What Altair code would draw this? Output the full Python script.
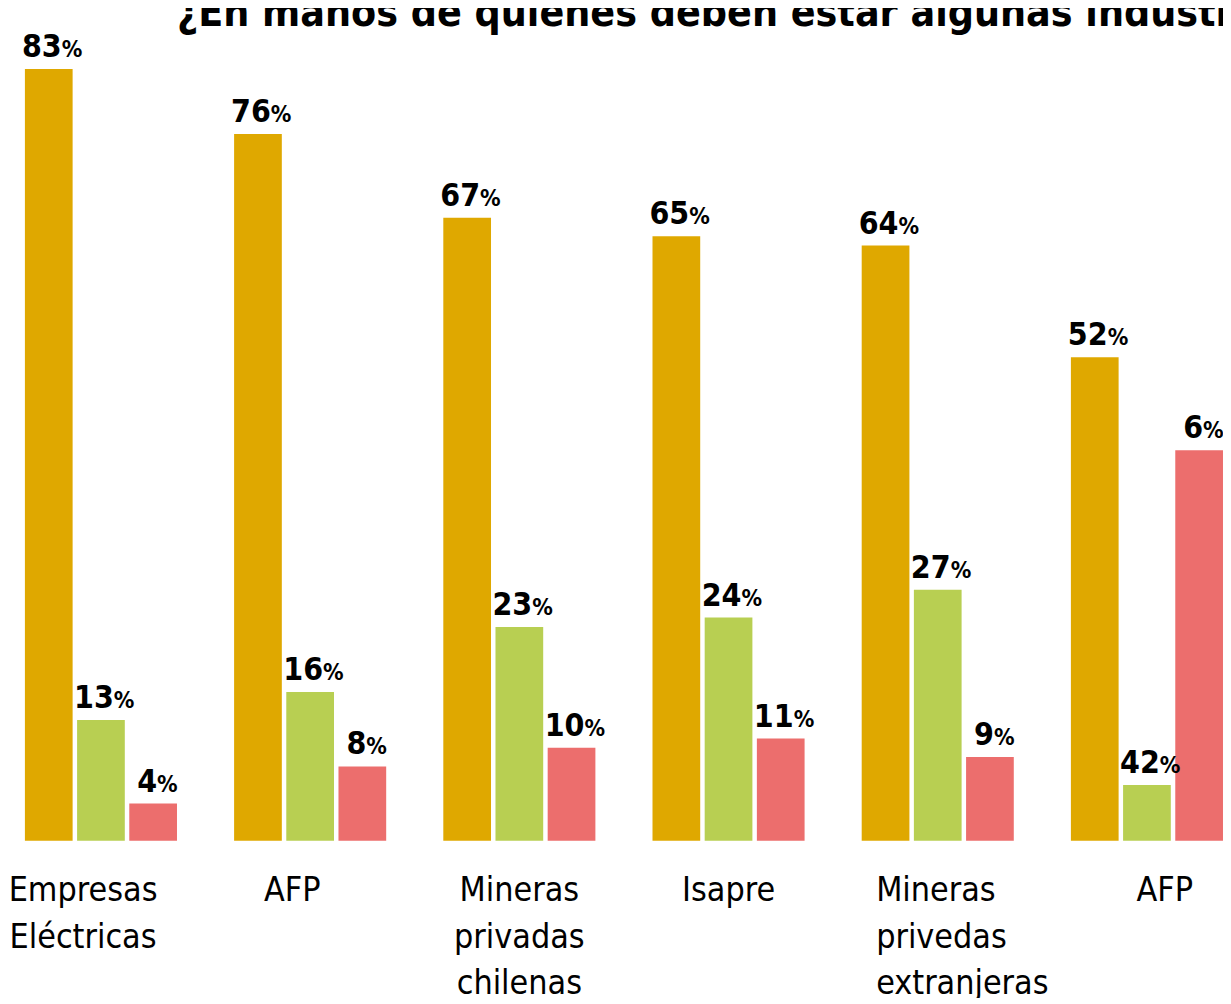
import json
import altair as alt
import pandas as pd

# ---- data ----
group_keys = ["g1", "g2", "g3", "g4", "g5", "g6"]
group_labels = [
    "Empresas|Eléctricas",
    "AFP",
    "Mineras|privadas|chilenas",
    "Isapre",
    "Mineras|privedas|extranjeras",
    "AFP",
]
series_names = ["A", "B", "C"]
series_colors = ["#DFA800", "#B8CF52", "#EC6E6D"]

values_a = [83, 76, 67, 65, 64, 52]
values_b = [13, 16, 23, 24, 27, 6]
values_c = [4, 8, 10, 11, 9, 42]

labels_a = ["83", "76", "67", "65", "64", "52"]
labels_b = ["13", "16", "23", "24", "27", "42"]
labels_c = ["4", "8", "10", "11", "9", "6"]

title_text = "¿En manos de quienes deben estar algunas industrias?"

# ---- build table ----
rows = []
for s, vals, labs in zip(series_names, [values_a, values_b, values_c], [labels_a, labels_b, labels_c]):
    for g, v, l in zip(group_keys, vals, labs):
        rows.append({"grupo": g, "serie": s, "valor": v, "etiqueta": l})
df = pd.DataFrame(rows)

label_map = {k: lab.split("|") for k, lab in zip(group_keys, group_labels)}
label_expr = json.dumps(label_map, ensure_ascii=False) + "[datum.value]"

NUM_FONT = "DejaVu Sans Condensed"

x_enc = alt.X(
    "grupo:N",
    sort=group_keys,
    scale=alt.Scale(paddingInner=0.273, paddingOuter=0.0808, range=[0, 1240]),
    axis=alt.Axis(
        title=None,
        domain=False,
        ticks=False,
        tickSize=0,
        grid=False,
        labelAngle=0,
        labelExpr=label_expr,
        labelFont=NUM_FONT,
        labelFontSize=34,
        labelLineHeight=47,
        labelColor="#000000",
        labelPadding=33,
        labelAlign={"condition": {"test": "datum.value === 'g5'", "value": "left"}, "value": "center"},
        labelOffset={
            "condition": [
                {"test": "datum.value === 'g1'", "value": -18},
                {"test": "datum.value === 'g2'", "value": -18},
                {"test": "datum.value === 'g5'", "value": -62},
                {"test": "datum.value === 'g6'", "value": 18},
            ],
            "value": 0,
        },
        labelLimit=400,
    ),
)
xoff_enc = alt.XOffset("serie:N", sort=series_names, scale=alt.Scale(paddingInner=0.0857, paddingOuter=0))
y_enc = alt.Y("valor:Q", scale=alt.Scale(domain=[0, 89.2], nice=False), axis=None)

base = alt.Chart(df)

bars = base.mark_bar(cornerRadius=0).encode(
    x=x_enc,
    xOffset=xoff_enc,
    y=y_enc,
    color=alt.Color("serie:N", scale=alt.Scale(domain=series_names, range=series_colors), legend=None),
)

def label_layers(cond, dx):
    num = base.transform_filter(cond).mark_text(
        align="right", baseline="alphabetic", dx=dx, dy=-12,
        font=NUM_FONT, fontWeight="bold", fontSize=32, color="#000000",
    ).encode(x=x_enc, xOffset=xoff_enc, y=y_enc, text="etiqueta:N")
    pct = base.transform_filter(cond).mark_text(
        align="left", baseline="alphabetic", dx=dx, dy=-12,
        font=NUM_FONT, fontWeight="bold", fontSize=23, color="#000000",
    ).encode(x=x_enc, xOffset=xoff_enc, y=y_enc, text=alt.value("%"))
    return [num, pct]

two_digit = label_layers("length(datum.etiqueta) >= 2", 13)
one_digit = label_layers("length(datum.etiqueta) < 2", 4)

title_layer = alt.Chart(pd.DataFrame({"t": [title_text]})).mark_text(
    align="left", baseline="alphabetic",
    font=NUM_FONT, fontWeight="bold", fontSize=41, color="#000000",
).encode(x=alt.value(170), y=alt.value(15), text="t:N")

chart = alt.layer(bars, *two_digit, *one_digit, title_layer).properties(
    width=1223,
    height=835,
    background="#ffffff",
    padding={"left": 0, "top": 0, "right": 0, "bottom": 155},
    autosize=alt.AutoSizeParams(type="none"),
).configure_view(strokeWidth=0, stroke="transparent")

chart.save("out.html", embed_options={"renderer": "svg", "actions": False})
